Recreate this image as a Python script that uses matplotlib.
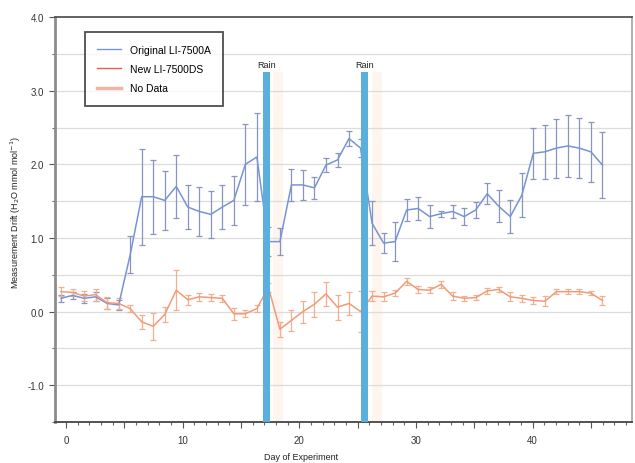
import numpy as np
import matplotlib
matplotlib.use("Agg")
import matplotlib.pyplot as plt
from matplotlib.lines import Line2D
from matplotlib.ticker import MultipleLocator, FuncFormatter

plt.rcParams['font.family'] = ['Liberation Sans', 'DejaVu Sans']

# sample positions (first and last, 48 daily samples)
day = np.linspace(-0.43, 45.98, 48)

orig_mean = [0.18, 0.22, 0.18, 0.20, 0.11, 0.09, 0.77, 1.56, 1.56, 1.51,
             1.70, 1.42, 1.36, 1.32, 1.42, 1.51, 2.00, 2.10, 0.95, 0.95,
             1.72, 1.72, 1.68, 1.99, 2.06, 2.35, 2.22, 1.20, 0.93, 0.95,
             1.38, 1.40, 1.29, 1.33, 1.36, 1.29, 1.38, 1.60, 1.43, 1.29,
             1.58, 2.15, 2.17, 2.22, 2.25, 2.22, 2.17, 1.99]
orig_err = [0.05, 0.05, 0.06, 0.06, 0.07, 0.07, 0.25, 0.65, 0.50, 0.40,
            0.43, 0.30, 0.33, 0.32, 0.30, 0.33, 0.55, 0.60, 0.20, 0.18,
            0.22, 0.20, 0.15, 0.10, 0.10, 0.10, 0.12, 0.30, 0.14, 0.26,
            0.15, 0.15, 0.16, 0.04, 0.09, 0.11, 0.11, 0.14, 0.22, 0.22,
            0.30, 0.35, 0.37, 0.40, 0.42, 0.41, 0.41, 0.45]

new_mean = [0.27, 0.26, 0.21, 0.23, 0.12, 0.11, 0.04, -0.14, -0.20, -0.04,
            0.29, 0.16, 0.20, 0.19, 0.18, -0.03, -0.03, 0.04, 0.33, -0.24,
            -0.12, 0.00, 0.10, 0.24, 0.06, 0.11, 0.00, 0.21, 0.20, 0.25,
            0.41, 0.30, 0.29, 0.37, 0.21, 0.18, 0.19, 0.28, 0.30, 0.20,
            0.18, 0.15, 0.14, 0.27, 0.27, 0.27, 0.25, 0.15]
new_err = [0.06, 0.05, 0.07, 0.08, 0.08, 0.08, 0.05, 0.10, 0.18, 0.10,
           0.27, 0.07, 0.05, 0.05, 0.05, 0.08, 0.05, 0.05, 0.06, 0.10,
           0.14, 0.15, 0.17, 0.16, 0.17, 0.15, 0.28, 0.07, 0.06, 0.04,
           0.05, 0.05, 0.04, 0.05, 0.05, 0.03, 0.03, 0.04, 0.04, 0.06,
           0.05, 0.05, 0.07, 0.03, 0.03, 0.03, 0.03, 0.06]

rain_days = [17.16, 25.6]
rain_top = 3.26
no_data_spans = [(17.7, 18.6), (26.2, 27.1)]

blue = '#7794d6'
blue_err = '#8795bf'
orange = '#f29a78'
orange_err = '#f0b08f'
rain_col = '#5aafdc'

fig = plt.figure(figsize=(6.35, 4.64), dpi=100)
ax = fig.add_axes([0.0866, 0.0884, 0.9084, 0.8726])

# faint "no data" bands
for a, b in no_data_spans:
    ax.bar((a + b) / 2, rain_top + 1.5, bottom=-1.5, width=b - a,
           color='#fdf5ee', zorder=0.5, linewidth=0)

# rain bars
for d in rain_days:
    ax.bar(d, rain_top + 1.5, bottom=-1.5, width=0.58, color=rain_col,
           zorder=4, linewidth=0)
    ax.text(d, rain_top + 0.04, 'Rain', ha='center', va='bottom',
            fontsize=6.5, color='#222222')

ax.errorbar(day, orig_mean, yerr=orig_err, color=blue, ecolor=blue_err,
            lw=1.1, elinewidth=0.9, capsize=2, capthick=0.9, zorder=3)
ax.errorbar(day, new_mean, yerr=new_err, color=orange, ecolor=orange_err,
            lw=1.1, elinewidth=0.9, capsize=2, capthick=0.9, zorder=3)

ax.set_xlim(-0.95, 48.5)
ax.set_ylim(-1.5, 4.0)

ax.xaxis.set_major_locator(MultipleLocator(5))
ax.xaxis.set_minor_locator(MultipleLocator(1))
ax.xaxis.set_major_formatter(FuncFormatter(
    lambda v, p: f'{int(round(v))}' if round(v) % 10 == 0 else ''))
ax.yaxis.set_major_locator(MultipleLocator(1.0))
ax.yaxis.set_minor_locator(MultipleLocator(0.5))
ax.yaxis.set_major_formatter(FuncFormatter(lambda v, p: f'{v:.1f}'))

ax.tick_params(axis='both', which='major', labelsize=7, length=4,
               width=0.8, colors='#555555', labelcolor='#333333')
ax.tick_params(axis='x', which='major', pad=5.5)
ax.tick_params(axis='y', which='major', pad=4)
ax.tick_params(axis='both', which='minor', length=2.5, width=0.8,
               colors='#666666')

for g in np.arange(-1.0, 3.51, 0.5):
    ax.axhline(g, color='#dcdcdc', lw=0.9, zorder=0.6)

ax.spines['left'].set_color('#8c8c8c')
ax.spines['left'].set_linewidth(2.0)
ax.spines['bottom'].set_color('#444444')
ax.spines['bottom'].set_linewidth(1.3)
ax.spines['top'].set_color('#555555')
ax.spines['top'].set_linewidth(1.3)
ax.spines['right'].set_color('#aaaaaa')
ax.spines['right'].set_linewidth(1.3)

ax.set_xlabel('Day of Experiment', fontsize=6.5, color='#222222')
ax.xaxis.set_label_coords(0.426, -0.075)
ax.set_ylabel('Measurement Drift (H$_2$O mmol mol$^{-1}$)', fontsize=6.5,
              color='#222222')
ax.yaxis.set_label_coords(-0.055, 0.52)

handles = [Line2D([], [], color=blue, lw=1.0),
           Line2D([], [], color='#e06050', lw=1.0),
           Line2D([], [], color='#f4b4a4', lw=2.5)]
leg = ax.legend(handles, ['Original LI-7500A', 'New LI-7500DS', 'No Data'],
                loc='upper left', bbox_to_anchor=(0.052, 0.963),
                fontsize=7.5, frameon=True, fancybox=False,
                handlelength=2.3, labelspacing=0.9, borderpad=1.2,
                borderaxespad=0)
leg.get_frame().set_edgecolor('#222222')
leg.get_frame().set_linewidth(1.3)
leg.set_zorder(6)

fig.savefig('out.png', dpi=100)
